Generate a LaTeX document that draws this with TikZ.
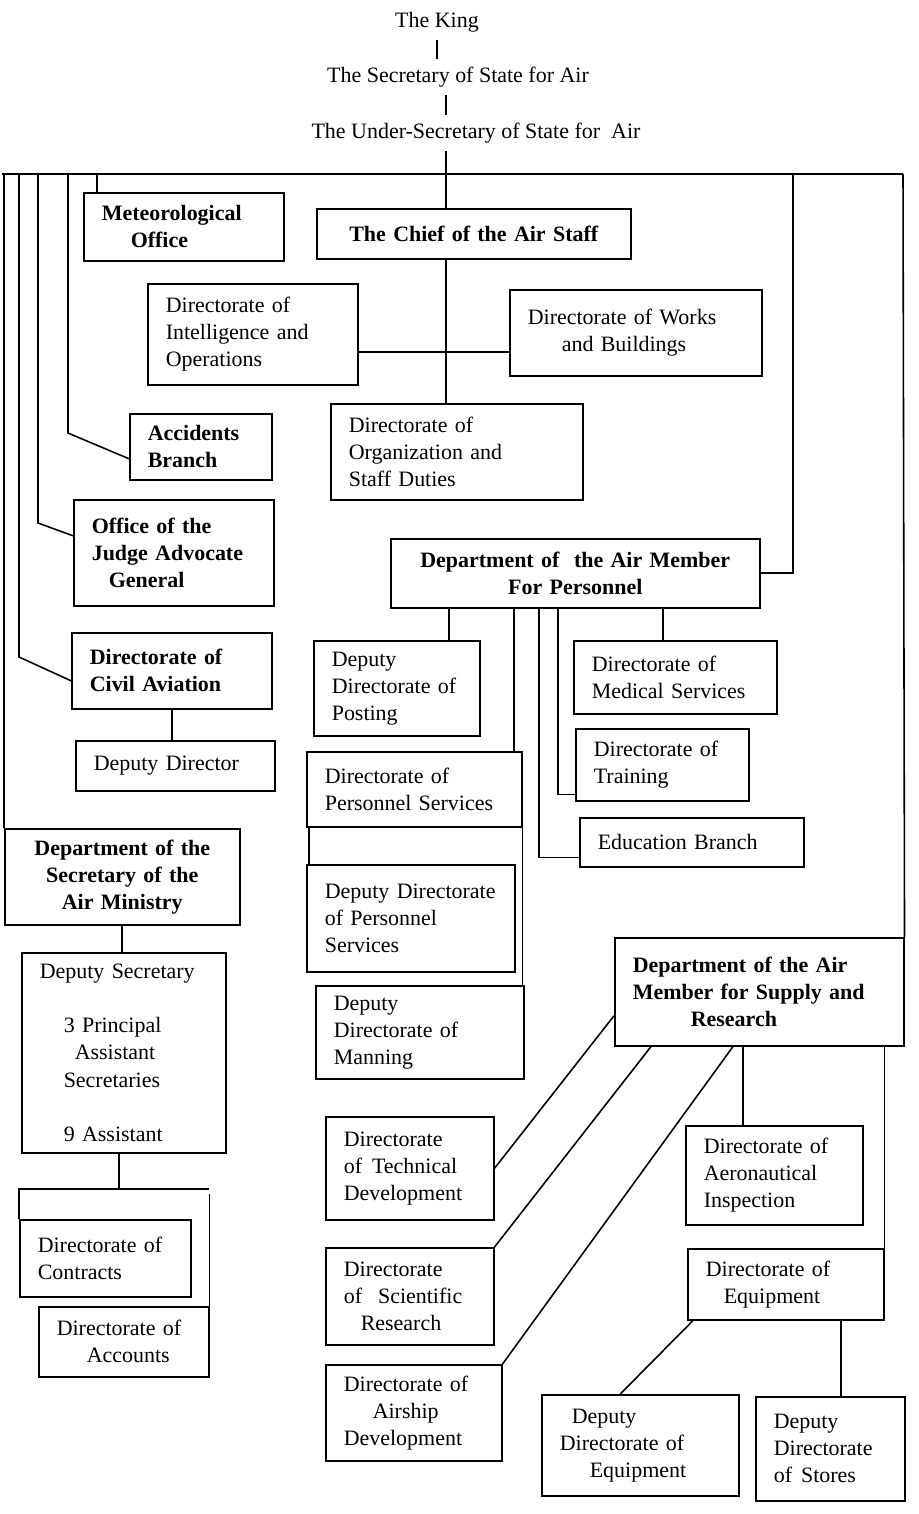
\documentclass[tikz,border=0pt]{standalone}
\usepackage{fontspec}
\setmainfont{Liberation Serif}
\usepackage{tikz}
\newcommand\chartsize{\fontsize{12.5}{15.4}\selectfont}

\begin{document}
\begin{tikzpicture}[
    x=0.02cm, y=-0.02cm,
    line width=0.9pt,
    box/.style={draw, inner xsep=0.36cm, inner ysep=0pt, align=left, anchor=north west, font=\chartsize},
    bbox/.style={box, font=\chartsize\bfseries},
    head/.style={inner sep=4pt, font=\chartsize}
]

\useasboundingbox (0,0) rectangle (919,1514);

% Top
\node[head] (king) at (437,22) {The King};
\node[head] (sos) at (458,77) {The Secretary of State for Air};
\node[head] (usos) at (476,133) {The Under-Secretary of State for\ \ Air};

% Chief of the Air Staff
\node[bbox, align=center, text width=5.56cm, minimum height=1cm] (chief) at (316,208) {The Chief of the Air Staff};
\node[box, text width=3.48cm, minimum height=2.02cm] (intel) at (147,283) {Directorate of\\Intelligence and\\Operations};
\node[box, text width=4.32cm, minimum height=1.72cm] (works) at (509,289) {Directorate of Works\\\hspace*{0.68cm}and Buildings};
\node[box, text width=4.32cm, minimum height=1.92cm] (org) at (330,403) {Directorate of\\Organization and\\Staff Duties};

% Left branches
\node[bbox, text width=3.28cm, minimum height=1.36cm] (met) at (83,192) {Meteorological\\\hspace*{0.58cm}Office};
\node[bbox, text width=2.12cm, minimum height=1.32cm] (accid) at (129,413) {Accidents\\Branch};
\node[bbox, text width=3.28cm, minimum height=2.12cm] (judge) at (73,499) {Office of the\\Judge Advocate\\\hspace*{0.34cm}General};
\node[bbox, text width=3.28cm, minimum height=1.52cm] (civil) at (71,632) {Directorate of\\Civil Aviation};
\node[box, text width=3.26cm, minimum height=1cm] (depdir) at (75,740) {Deputy Director};

% Secretary of the Air Ministry
\node[bbox, align=center, text width=3.98cm, minimum height=1.92cm] (airsec) at (4,828) {Department of the\\Secretary of the\\Air Ministry};
\node[box, text width=3.36cm, minimum height=4cm] (depsec) at (21,952) {Deputy Secretary\\[15.4pt]\hspace*{0.48cm}3 Principal\\\hspace*{0.7cm}Assistant\\\hspace*{0.48cm}Secretaries\\[15.4pt]\hspace*{0.48cm}9 Assistant};
\node[box, text width=2.70cm, minimum height=1.54cm] (contracts) at (19,1219) {Directorate of\\Contracts};
\node[box, text width=2.68cm, minimum height=1.40cm] (accounts) at (38,1306) {Directorate of\\\hspace*{0.6cm}Accounts};

% Air Member for Personnel
\node[bbox, align=center, text width=6.66cm, minimum height=1.38cm] (pers) at (390,538) {Department of\ \ the Air Member\\For Personnel};
\node[box, text width=2.60cm, minimum height=1.90cm] (posting) at (313,640) {Deputy\\Directorate of\\Posting};
\node[box, text width=3.58cm, minimum height=1.50cm] (persserv) at (306,751) {Directorate of\\Personnel Services};
\node[box, text width=3.44cm, minimum height=2.14cm] (ddps) at (306,864) {Deputy Directorate\\of Personnel\\Services};
\node[box, text width=3.44cm, minimum height=1.86cm] (manning) at (315,985) {Deputy\\Directorate of\\Manning};
\node[box, text width=3.34cm, minimum height=1.46cm] (medical) at (573,640) {Directorate of\\Medical Services};
\node[box, text width=2.74cm, minimum height=1.44cm] (training) at (575,728) {Directorate of\\Training};
\node[box, text width=3.76cm, minimum height=0.98cm] (educ) at (579,817) {Education Branch};

% Air Member for Supply and Research
\node[bbox, text width=5.06cm, minimum height=2.16cm] (supply) at (614,937) {Department of the Air\\Member for Supply and\\\hspace*{1.16cm}Research};
\node[box, text width=2.64cm, minimum height=2.06cm] (techdev) at (325,1116) {Directorate\\of\hspace{0.2cm}Technical\\Development};
\node[box, text width=2.64cm, minimum height=1.94cm] (scires) at (325,1247) {Directorate\\of\hspace{0.32cm}Scientific\\\hspace*{0.34cm}Research};
\node[box, text width=2.80cm, minimum height=1.92cm] (airship) at (325,1364) {Directorate of\\\hspace*{0.58cm}Airship\\Development};
\node[box, text width=2.82cm, minimum height=1.98cm] (aero) at (685,1125) {Directorate of\\Aeronautical\\Inspection};
\node[box, text width=3.20cm, minimum height=1.42cm] (equip) at (687,1248) {Directorate of\\\hspace*{0.36cm}Equipment};
\node[box, text width=3.22cm, minimum height=2.02cm] (ddequip) at (541,1394) {\hspace*{0.24cm}Deputy\\Directorate of\\\hspace*{0.6cm}Equipment};
\node[box, text width=2.26cm, minimum height=2.08cm] (ddstores) at (755,1396) {Deputy\\Directorate\\of\hspace{0.18cm}Stores};

% Trunk and bar
\coordinate (trunk) at (446,174);
\coordinate (barL) at (2,174);
\coordinate (barR) at (903,174);
\coordinate (barP) at (793,174);
\draw (king.south) -- (king.south |- sos.north);
\draw (sos.south -| trunk) -- (usos.north -| trunk);
\draw (usos.south -| trunk) -- (trunk |- chief.north);
\draw (barL) -- (barR);

% Left lines
\coordinate (kcivil) at (19,657);
\coordinate (kjudge) at (38,523);
\coordinate (kacc) at (68,433);
\draw (airsec.north west |- barL) -- (airsec.north west);
\draw (kcivil |- barL) -- (kcivil) -- ([yshift=-0.2cm]civil.west);
\draw (kjudge |- barL) -- (kjudge) -- ([yshift=0.34cm]judge.west);
\draw (kacc |- barL) -- (kacc) -- ([yshift=-0.24cm]accid.west);
\draw ([xshift=0.28cm]met.north west) -- ([xshift=0.28cm]met.north west |- barL);

% Right lines
\draw (pers.east) -| (barP);
\draw (barR) -- (supply.north east);

% Chief of the Air Staff
\coordinate (cross) at (446,352);
\draw (chief.south -| trunk) -- (trunk |- org.north);
\draw (intel.east |- cross) -- (works.west |- cross);

% Civil Aviation and Secretary
\draw (civil.south) -- (civil.south |- depdir.north);
\draw (airsec.south) -- (airsec.south |- depsec.north);
\coordinate (sbar) at (119,1189);
\coordinate (sbarR) at (209,1189);
\draw (depsec.south -| sbar) -- (sbar);
\draw (contracts.north west) |- (sbarR);
\draw (accounts.north east) -- ([yshift=-0.1cm]accounts.north east |- sbar);

% Personnel
\coordinate (ppost) at (449,0);
\coordinate (pps) at (514,0);
\coordinate (pedu) at (539,0);
\coordinate (ptrain) at (558,0);
\coordinate (pmed) at (663,0);
\draw (ppost |- pers.south) -- (ppost |- posting.north);
\draw (pps |- pers.south) -- (pps |- persserv.north);
\draw (pedu |- pers.south) |- ([yshift=0.2cm]educ.south west);
\draw (ptrain |- pers.south) |- ([yshift=0.14cm]training.south west);
\draw (pmed |- pers.south) -- (pmed |- medical.north);
\draw ([xshift=0.06cm]persserv.south west) -- ([xshift=0.06cm]ddps.north west);
\draw (persserv.south east) -- (persserv.south east |- manning.north);

% Supply and Research
\coordinate (paero) at (743,0);
\coordinate (pstore) at (841,0);
\draw ([yshift=-0.48cm]supply.west) -- (techdev.east);
\draw ([xshift=0.74cm]supply.south west) -- (scires.north east);
\draw ([xshift=2.38cm]supply.south west) -- (airship.north east);
\draw (paero |- supply.south) -- (paero |- aero.north);
\draw (equip.north east) -- (equip.north east |- supply.south);
\draw ([xshift=0.12cm]equip.south west) -- ([xshift=-0.4cm]ddequip.north);
\draw (pstore |- equip.south) -- (pstore |- ddstores.north);

\end{tikzpicture}
\end{document}
